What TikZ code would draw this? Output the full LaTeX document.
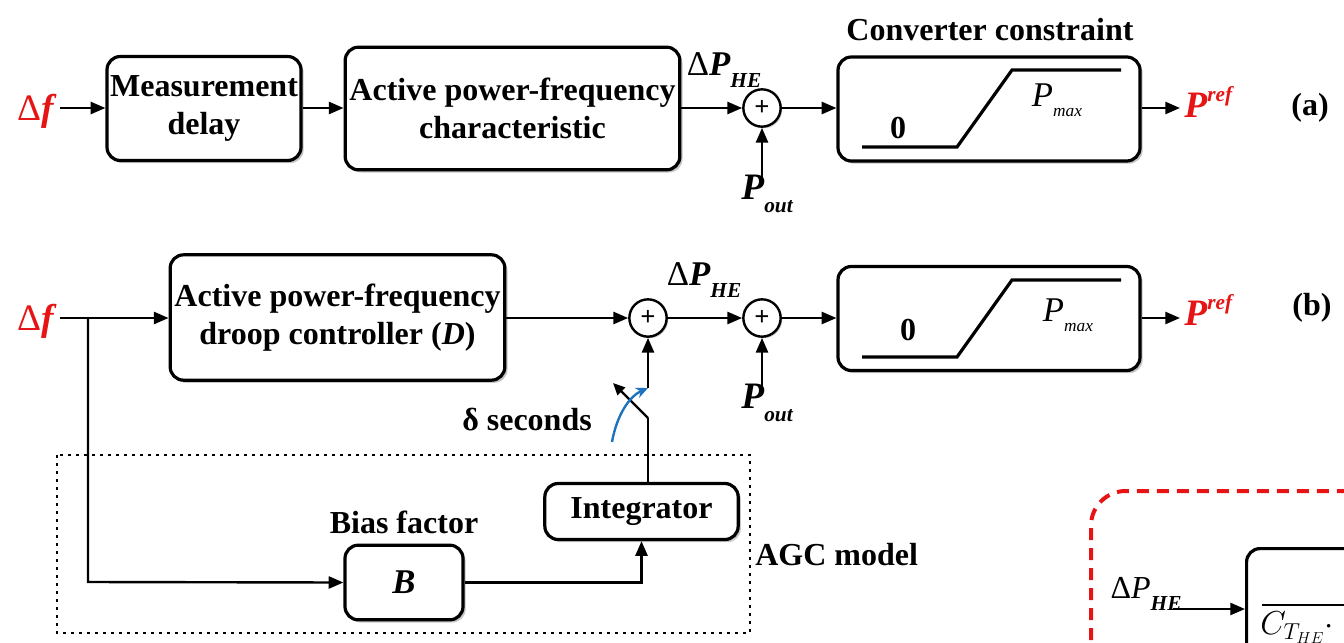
\documentclass[tikz,border=0pt]{standalone}
\usepackage{fontspec}
\setmainfont{Liberation Serif}
\usetikzlibrary{arrows.meta,shadows}
\definecolor{sigred}{RGB}{230,20,20}
\definecolor{swblue}{RGB}{30,115,190}
\newcommand{\lbl}{\fontsize{24}{28}\selectfont\bfseries}
\newcommand{\mysub}[1]{\raisebox{-0.35em}{\fontsize{16}{16}\selectfont\bfseries\itshape #1}}
\newcommand{\mysup}[1]{\raisebox{0.45em}{\fontsize{16}{16}\selectfont\bfseries\itshape #1}}
\begin{document}
\begin{tikzpicture}[x=0.75pt,y=-0.75pt,
  blk/.style={draw, line width=2.4pt, rounded corners=10pt, fill=white,
    drop shadow={shadow xshift=2pt, shadow yshift=-2pt, fill=black!50, opacity=0.45},
    align=center, font=\lbl, inner sep=0pt},
  sumn/.style={draw, circle, line width=1.8pt, minimum size=28pt, inner sep=0pt, fill=white,
    drop shadow={shadow xshift=1.2pt, shadow yshift=-1.2pt, fill=black!50, opacity=0.4},
    font=\fontsize{20}{20}\selectfont\bfseries},
  arr/.style={line width=1.8pt, -{Triangle[length=11pt,width=9pt]}},
  ln/.style={line width=1.8pt},
  sat/.style={line width=2.4pt},
  txt/.style={inner sep=0pt, font=\lbl}]
\useasboundingbox (0,0) rectangle (1344,642);
\clip (0,0) rectangle (1344,642);

% ---------------- (a) ----------------
\node[inner sep=0pt, anchor=east, text=sigred, font=\fontsize{28}{28}\selectfont] (dfa) at (57,111) {Δ\textbf{\textit{f}}};
\coordinate (dfao) at (60,108);
\node[blk, minimum width=145.5pt, minimum height=78pt] (md) at (204,108.5) {Measurement\\delay};
\node[blk, minimum width=251pt, minimum height=92pt] (apf) at (512.5,108.5) {Active power-frequency\\characteristic};
\node[sumn] (sa) at (762,108) {+};
\node[blk, minimum width=226.5pt, minimum height=78pt] (cva) at (989,109) {};
\node[txt] (cct) at (990,30) {Converter constraint};
\node[txt, font=\fontsize{26}{26}\selectfont] (dpa) at (724,70) {Δ\textbf{\textit{P}}\mysub{HE}};
\node[txt, font=\fontsize{28}{28}\selectfont] (poa) at (767,194) {\textbf{\textit{P}}\mysub{out}};
\node[txt, text=sigred, font=\fontsize{28}{28}\selectfont, anchor=west] (pra) at (1184,102) {\textbf{\textit{P}}\mysup{ref}};
\node[txt] (la) at (1310,108) {(a)};
\node[txt] (za) at (898,128) {0};
\node[txt, font=\fontsize{26}{26}\selectfont] (pma) at (1057,100) {\textit{P}\raisebox{-0.3em}{\fontsize{13}{13}\selectfont\itshape max}};
\draw[sat] (862,147) -- (957,147) -- (1012,70) -- (1121,70);

\draw[arr] (dfao) -- (md.west |- dfao);
\draw[arr] (md.east |- dfao) -- (apf.west |- dfao);
\draw[arr] (apf.east |- dfao) -- (sa.west);
\draw[arr] (sa.east) -- (cva.west |- sa.east);
\draw[arr] (762,177) -- (sa.south);
\draw[arr] (cva.east |- dfao) -- (1180,108);

% ---------------- (b) ----------------
\node[inner sep=0pt, anchor=east, text=sigred, font=\fontsize{28}{28}\selectfont] (dfb) at (57,321) {Δ\textbf{\textit{f}}};
\coordinate (dfbo) at (60,318);
\node[blk, minimum width=251pt, minimum height=94pt] (droop) at (337.5,317.5) {Active power-frequency\\droop controller (\textit{D})};
\node[sumn] (sb1) at (648,318) {+};
\node[sumn] (sb2) at (762,318) {+};
\node[blk, minimum width=226.5pt, minimum height=78pt] (cvb) at (989,318.5) {};
\node[txt, font=\fontsize{26}{26}\selectfont] (dpb) at (704,280) {Δ\textbf{\textit{P}}\mysub{HE}};
\node[txt, font=\fontsize{28}{28}\selectfont] (pob) at (767,403) {\textbf{\textit{P}}\mysub{out}};
\node[txt, text=sigred, font=\fontsize{28}{28}\selectfont, anchor=west] (prb) at (1184,310) {\textbf{\textit{P}}\mysup{ref}};
\node[txt] (lb) at (1312,308) {(b)};
\node[txt] (zb) at (908,330) {0};
\node[txt, font=\fontsize{26}{26}\selectfont] (pmb) at (1068,315) {\textit{P}\raisebox{-0.3em}{\fontsize{13}{13}\selectfont\itshape max}};
\draw[sat] (862,357) -- (957,357) -- (1012,280) -- (1121,280);

\node[blk, minimum width=145pt, minimum height=42pt] (integ) at (641.5,511.5) {Integrator};
\node[blk, minimum width=88.5pt, minimum height=56pt, font=\fontsize{26}{26}\selectfont\bfseries\itshape] (B) at (404,582.5) {B};
\node[txt] (bias) at (404,522) {Bias factor};
\node[txt, anchor=west] (agc) at (755,555) {AGC model};
\node[txt] (dsec) at (527,420) {δ seconds};

\coordinate (br) at (88,318);
\coordinate (swlow) at (648,418);
\coordinate (swtip) at (613,383);
\coordinate (swtop) at (648,388);

\draw[ln] (dfbo) -- (br);
\draw[arr] (br) -- (droop.west |- br);
\draw[arr] (br) -- (88,582) -- (B.west);
\draw[arr] (B.east) -| (integ.south);
\draw[arr] (droop.east |- sb1) -- (sb1.west);
\draw[arr] (sb1.east) -- (sb2.west);
\draw[arr] (sb2.east) -- (cvb.west |- sb2);
\draw[arr] (762,387) -- (sb2.south);
\draw[arr] (cvb.east |- sb2) -- (1180,318);
% switch
\draw[ln] (integ.north -| swlow) -- (swlow);
\draw[line width=1.8pt, -{Triangle[length=9pt,width=8pt]}] (swlow) -- (swtip);
\draw[arr] (swtop) -- (sb1.south);
\draw[line width=1.8pt, swblue, -{Stealth[length=9pt,width=8pt]}] (612,442) .. controls (617,414) and (630,396) .. (swtop);

% AGC dotted box
\draw[line width=2.2pt, dash pattern=on 2.2pt off 3.8pt] (57,455) rectangle (750,633);

% ---------------- cropped figure (bottom right) ----------------
\draw[sigred, line width=3pt, dash pattern=on 9pt off 6pt, rounded corners=26pt] (1091,700) -- (1091,491) -- (1400,491);
\node[blk, minimum width=150pt, minimum height=150pt, anchor=north west] (hbox) at (1245,547) {};
\draw[line width=1pt] (1262,605) -- (1400,605);
\node[inner sep=0pt, anchor=north west, font=\fontsize{26}{26}\selectfont] (cth) at (1260,612) {$C_{T_{HE}}\cdot$};
\node[inner sep=0pt, font=\fontsize{24}{24}\selectfont] (dph) at (1146,594) {Δ\textit{P}\raisebox{-0.35em}{\fontsize{16}{16}\selectfont\bfseries\itshape HE}};
\draw[arr] (1173,609) -- (hbox.west |- 0,609);
\end{tikzpicture}
\end{document}
